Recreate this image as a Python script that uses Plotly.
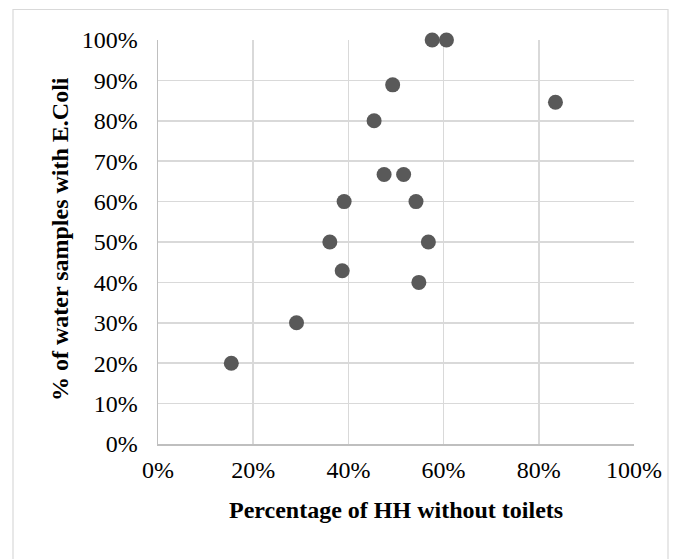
import plotly.graph_objects as go

hh_without_toilets = [57.6, 60.6, 49.3, 83.5, 45.4, 47.5, 51.6, 39.1, 54.2, 36.1, 56.8, 38.7, 54.8, 29.1, 15.4]
samples_with_ecoli = [100, 100, 88.9, 84.6, 80, 66.7, 66.7, 60, 60, 50, 50, 42.9, 40, 30, 20]

x_ticks = [0, 20, 40, 60, 80, 100]
y_ticks = [0, 10, 20, 30, 40, 50, 60, 70, 80, 90, 100]

W, H = 678, 559
L, R, T, B = 158, 44, 40, 115
pw, ph = W - L - R, H - T - B

def px(xp):
    return (xp - L) / pw

def py(yp):
    return (H - B - yp) / ph

fig = go.Figure(go.Scatter(
    x=hh_without_toilets, y=samples_with_ecoli, mode="markers",
    marker=dict(size=15, color="#595959", line=dict(width=0)),
    cliponaxis=False, hoverinfo="skip"))

font_tick = dict(family="Liberation Serif, Times New Roman, serif", size=24, color="#000000")
font_title = dict(family="Liberation Serif, Times New Roman, serif", size=24, color="#000000")

fig.update_layout(
    width=W, height=H,
    margin=dict(l=L, r=R, t=T, b=B, pad=0),
    paper_bgcolor="white", plot_bgcolor="white",
    showlegend=False,
    xaxis=dict(range=[0, 100], tickvals=x_ticks, ticktext=[f"{v}%" for v in x_ticks],
               showgrid=True, gridcolor="#d9d9d9", gridwidth=1.5,
               showline=True, linecolor="#bfbfbf", linewidth=1.5,
               zeroline=False, ticks="", tickfont=font_tick, ticklabelstandoff=4,
               fixedrange=True),
    yaxis=dict(range=[0, 100], tickvals=y_ticks, ticktext=[f"{v}%" for v in y_ticks],
               showgrid=True, gridcolor="#d9d9d9", gridwidth=1.5,
               showline=True, linecolor="#bfbfbf", linewidth=1.5,
               zeroline=False, ticks="", tickfont=font_tick, ticklabelstandoff=14,
               fixedrange=True),
    annotations=[
        dict(text="<b>Percentage of HH without toilets</b>", xref="paper", yref="paper",
             x=0.5, y=py(510), xanchor="center", yanchor="middle", showarrow=False,
             font=font_title),
        dict(text="<b>% of water samples with E.Coli</b>", xref="paper", yref="paper",
             x=px(60), y=py(239), xanchor="center", yanchor="middle", showarrow=False,
             textangle=-90, font=font_title),
    ],
    shapes=[
        dict(type="rect", xref="paper", yref="paper",
             x0=px(13), x1=px(668), y0=py(575), y1=py(9.5),
             line=dict(color="#d9d9d9", width=1.2), fillcolor="rgba(0,0,0,0)", layer="below"),
    ],
)

fig.write_html("out.html", config={"displayModeBar": False, "staticPlot": True},
               post_script="document.body.style.margin='0';document.body.style.overflow='hidden';")
